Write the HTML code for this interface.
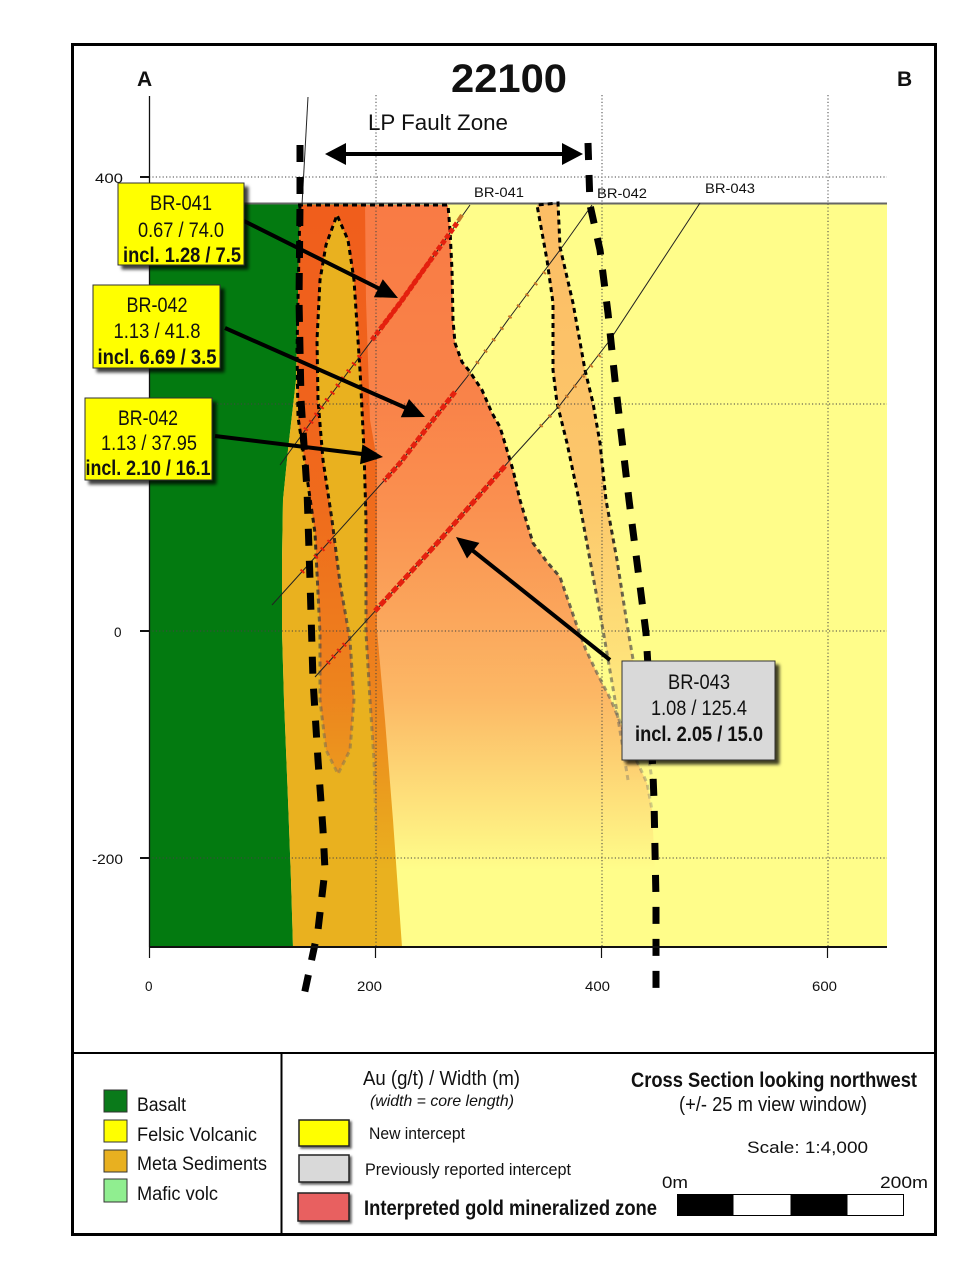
<!DOCTYPE html>
<html><head><meta charset="utf-8"><style>
html,body{margin:0;padding:0;background:#fff;}
svg{display:block;}
text{font-family:"Liberation Sans",sans-serif;fill:#111;}
.n{font-family:"Liberation Sans Narrow","Liberation Sans",sans-serif;}
.v{font-family:"DejaVu Sans","Liberation Sans",sans-serif;}
</style></head><body>
<svg width="980" height="1268" viewBox="0 0 980 1268" xmlns="http://www.w3.org/2000/svg">
<defs>
 <linearGradient id="zg" gradientUnits="userSpaceOnUse" x1="0" y1="205" x2="0" y2="870">
  <stop offset="0" stop-color="rgb(245,43,26)" stop-opacity="0.62"/>
  <stop offset="0.3" stop-color="rgb(245,43,26)" stop-opacity="0.58"/>
  <stop offset="0.45" stop-color="rgb(245,43,26)" stop-opacity="0.52"/>
  <stop offset="0.64" stop-color="rgb(245,43,26)" stop-opacity="0.40"/>
  <stop offset="0.74" stop-color="rgb(245,43,26)" stop-opacity="0.33"/>
  <stop offset="0.86" stop-color="rgb(245,43,26)" stop-opacity="0.18"/>
  <stop offset="1" stop-color="rgb(245,43,26)" stop-opacity="0"/>
 </linearGradient>
 <linearGradient id="lg" gradientUnits="userSpaceOnUse" x1="0" y1="205" x2="0" y2="790">
  <stop offset="0" stop-color="rgb(245,60,26)" stop-opacity="0.33"/>
  <stop offset="0.5" stop-color="rgb(245,60,26)" stop-opacity="0.28"/>
  <stop offset="0.76" stop-color="rgb(245,60,26)" stop-opacity="0.15"/>
  <stop offset="1" stop-color="rgb(245,60,26)" stop-opacity="0"/>
 </linearGradient>
 <linearGradient id="sg" gradientUnits="userSpaceOnUse" x1="0" y1="200" x2="0" y2="840">
  <stop offset="0" stop-color="#000" stop-opacity="1"/>
  <stop offset="0.45" stop-color="#000" stop-opacity="1"/>
  <stop offset="0.62" stop-color="#3a3a3a" stop-opacity="0.75"/>
  <stop offset="1" stop-color="#777" stop-opacity="0.25"/>
 </linearGradient>
 <filter id="sh" x="-10%" y="-10%" width="130%" height="130%">
  <feDropShadow dx="4" dy="4" stdDeviation="1.6" flood-color="#000" flood-opacity="0.75"/>
 </filter>
 <filter id="sh2" x="-10%" y="-10%" width="130%" height="130%">
  <feDropShadow dx="2" dy="2" stdDeviation="1" flood-color="#000" flood-opacity="0.6"/>
 </filter>
</defs>

<rect x="0" y="0" width="980" height="1268" fill="#fff"/>

<!-- fills -->
<rect x="149" y="203" width="738" height="744" fill="#FFFD8A"/>
<polygon fill="#037A10" points="149,203 300,203 298,300 296,380 288,450 283,500 282,560 282,631 284,700 288,800 291,880 293,947 149,947"/>
<polygon fill="#E9B11F" points="300,203 365,203 366,300 370,420 377,460 377,630 385,720 393,820 402,947 293,947 291,880 288,800 284,700 282,631 282,560 283,500 288,450 296,380 298,300"/>
<!-- mineralized overlay -->
<path fill="url(#zg)" d="M300,205 L448,205 L450,230 L452,270 L453,320 L455,343 L462,362 L470,372 L482,390 L492,413 L500,427 L507,450 L513,470 L520,500 L533,543 L547,562 L560,577 L567,597 L576,623 L586,650 L597,673 L611,700 L622,727 L633,753 L647,783 L652,810 L655,870 L376,870 L376,830 L374,760 L370,700 L366,633 L366,520 L364,450 L360,370 L354,280 L348,240 L337,215 L326,245 L320,280 L317,340 L318,400 L323,460 L332,520 L340,583 L350,640 L354,700 L350,750 L338,774 L326,750 L320,700 L320,633 L315,533 L306,470 L298,417 L297,350 L298,300 Z"/>
<!-- right lens -->
<path fill="url(#lg)" d="M537,205 L547,260 L553,303 L553,370 L557,403 L567,443 L579,500 L590,560 L603,630 L615,700 L628,780 L652,780 L640,700 L628,630 L617,560 L606,500 L600,443 L593,403 L585,370 L573,303 L560,247 L558,203 Z"/>

<!-- gridlines -->
<g stroke="#444" stroke-width="1" stroke-dasharray="1.2 2.2" fill="none">
 <line x1="149" y1="177" x2="887" y2="177"/>
 <line x1="149" y1="404" x2="887" y2="404"/>
 <line x1="149" y1="631" x2="887" y2="631"/>
 <line x1="149" y1="858" x2="887" y2="858"/>
 <line x1="376" y1="95" x2="376" y2="947"/>
 <line x1="602" y1="95" x2="602" y2="947"/>
 <line x1="828" y1="95" x2="828" y2="947"/>
</g>

<!-- topography -->
<line x1="149" y1="203.5" x2="887" y2="203.5" stroke="#666" stroke-width="2"/>

<!-- zone outlines -->
<g fill="none" stroke="url(#sg)" stroke-width="3" stroke-dasharray="5 4">
 <path d="M298,205 L448,205 L450,230 L452,270 L453,320 L455,343 L462,362 L470,372 L482,390 L492,413 L500,427 L507,450 L513,470 L520,500 L533,543 L547,562 L560,577 L567,597 L576,623 L586,650 L597,673 L611,700 L622,727 L633,753 L647,783 L652,810"/>
 <path d="M376,830 L374,760 L370,700 L366,633 L366,520 L364,450 L360,370 L354,280 L348,240 L337,215 L326,245 L320,280 L317,340 L318,400 L323,460 L332,520 L340,583 L350,640 L354,700 L350,750 L338,774 L326,750 L320,700 L320,633 L315,533 L306,470 L298,417 L297,350 L298,300 L300,205"/>
 <path d="M628,780 L615,700 L603,630 L590,560 L579,500 L567,443 L557,403 L553,370 L553,303 L547,260 L537,205 L558,203 L560,247 L573,303 L585,370 L593,403 L600,443 L606,500 L617,560 L628,630 L640,700 L652,780"/>
</g>

<!-- drill holes -->
<g fill="none" stroke="#222" stroke-width="1">
 <polyline points="470,205 400,303 327,400 280,465"/>
 <polyline points="592,205 560,250 510,317 467,377 433,420 400,463 272,605"/>
 <polyline points="700,203 610,340 560,405 510,460 440,540 315,677"/>
 <line x1="308" y1="97" x2="302" y2="205"/>
</g>
<g fill="none" stroke="#E4200E" stroke-width="5">
 <polyline points="457,223 400,303 372,340" stroke-dasharray="5 2"/>
 <polyline points="432,258 400,303 382,327" stroke-width="4"/>
 <polyline points="360,356 327,400 303,433" stroke-dasharray="2 7"/>
 <polyline points="455,392 433,420 400,463 384,481" stroke-dasharray="6 2"/>
 <polyline points="330,541 300,574" stroke-dasharray="2 8"/>
 <polyline points="505,466 440,540 375,611" stroke-dasharray="7 2"/>
 <polyline points="345,644 325,666" stroke-dasharray="2 6"/>
</g>
<g fill="none" stroke="#C8782A" stroke-width="4">
 <polyline points="545,272 510,317 467,377" stroke-dasharray="2 12"/>
 <polyline points="600,355 560,405 540,427" stroke-dasharray="2 11"/>
 <polyline points="462,215 458,221" />
</g>

<!-- faults -->
<g fill="none" stroke="#000" stroke-width="7" stroke-dasharray="17 15">
 <path d="M300,145 L300,205 L299,300 L301,400 L307,490 L310,580 L313,680 L318,760 L323,830 L325,870 L318,930 L303,1000"/>
 <path d="M588,143 L590,205 L600,250 L608,313 L615,380 L622,440 L629,500 L638,570 L646,633 L650,700 L654,800 L656,900 L656,998"/>
</g>

<!-- axes -->
<g stroke="#111" fill="none">
 <line x1="149.5" y1="96" x2="149.5" y2="947" stroke-width="1.3"/>
 <line x1="140" y1="177" x2="149" y2="177" stroke-width="2"/>
 <line x1="140" y1="631" x2="149" y2="631" stroke-width="2"/>
 <line x1="140" y1="858" x2="149" y2="858" stroke-width="2"/>
 <line x1="149" y1="947" x2="887" y2="947" stroke-width="2"/>
 <line x1="149.5" y1="947" x2="149.5" y2="958" stroke-width="1.2"/>
 <line x1="375.5" y1="947" x2="375.5" y2="958" stroke-width="1.2"/>
 <line x1="601.5" y1="947" x2="601.5" y2="958" stroke-width="1.2"/>
 <line x1="827.5" y1="947" x2="827.5" y2="958" stroke-width="1.2"/>
</g>
<g class="v" font-size="13.5">
 <text x="95" y="183" textLength="28" lengthAdjust="spacingAndGlyphs">400</text>
 <text x="114" y="637">0</text>
 <text x="92" y="864" textLength="31" lengthAdjust="spacingAndGlyphs">-200</text>
 <text x="145" y="991">0</text>
 <text x="357" y="991" textLength="25" lengthAdjust="spacingAndGlyphs">200</text>
 <text x="585" y="991" textLength="25" lengthAdjust="spacingAndGlyphs">400</text>
 <text x="812" y="991" textLength="25" lengthAdjust="spacingAndGlyphs">600</text>
 <text x="474" y="197" textLength="50" lengthAdjust="spacingAndGlyphs">BR-041</text>
 <text x="597" y="198" textLength="50" lengthAdjust="spacingAndGlyphs">BR-042</text>
 <text x="705" y="193" textLength="50" lengthAdjust="spacingAndGlyphs">BR-043</text>
</g>

<!-- title -->
<text x="509" y="92" font-size="40" font-weight="bold" text-anchor="middle" textLength="116" lengthAdjust="spacingAndGlyphs">22100</text>
<text x="137" y="86" font-size="21" font-weight="bold">A</text>
<text x="897" y="86" font-size="21" font-weight="bold">B</text>
<text x="368" y="130" font-size="22" textLength="140" lengthAdjust="spacingAndGlyphs">LP Fault Zone</text>
<line x1="344" y1="154" x2="565" y2="154" stroke="#000" stroke-width="4"/>
<polygon points="325,154 346,143 346,165" fill="#000"/>
<polygon points="583,154 562,143 562,165" fill="#000"/>

<!-- arrows -->
<g stroke="#000" stroke-width="4">
 <line x1="242" y1="220" x2="380" y2="289"/>
 <line x1="225" y1="328" x2="406" y2="408"/>
 <line x1="215" y1="436" x2="362" y2="454"/>
 <line x1="610" y1="660" x2="472" y2="550"/>
</g>
<g fill="#000">
 <polygon points="398,298 373.9,297.2 382.8,279.3"/>
 <polygon points="425,417 400.8,417.2 409,399"/>
 <polygon points="383,457 360,464.2 362.4,444.4"/>
 <polygon points="456,537 479.4,542.9 467,558.5"/>
</g>

<!-- label boxes -->
<g filter="url(#sh)">
 <rect x="118" y="183" width="126" height="82" fill="#FFFF00" stroke="#333" stroke-width="1"/>
 <rect x="93" y="285" width="127" height="83" fill="#FFFF00" stroke="#333" stroke-width="1"/>
 <rect x="85" y="398" width="127" height="82" fill="#FFFF00" stroke="#333" stroke-width="1"/>
 <rect x="622" y="661" width="153" height="99" fill="#D9D9D9" stroke="#333" stroke-width="1"/>
</g>
<g class="n" font-size="21" text-anchor="middle">
 <text x="181" y="210" textLength="62" lengthAdjust="spacingAndGlyphs">BR-041</text>
 <text x="181" y="237" textLength="86" lengthAdjust="spacingAndGlyphs">0.67 / 74.0</text>
 <text x="182" y="262" font-weight="bold" textLength="118" lengthAdjust="spacingAndGlyphs">incl. 1.28 / 7.5</text>
 <text x="157" y="312" textLength="61" lengthAdjust="spacingAndGlyphs">BR-042</text>
 <text x="157" y="338" textLength="87" lengthAdjust="spacingAndGlyphs">1.13 / 41.8</text>
 <text x="157" y="364" font-weight="bold" textLength="119" lengthAdjust="spacingAndGlyphs">incl. 6.69 / 3.5</text>
 <text x="148" y="425" textLength="60" lengthAdjust="spacingAndGlyphs">BR-042</text>
 <text x="149" y="450" textLength="96" lengthAdjust="spacingAndGlyphs">1.13 / 37.95</text>
 <text x="148" y="475" font-weight="bold" textLength="125" lengthAdjust="spacingAndGlyphs">incl. 2.10 / 16.1</text>
 <text x="699" y="689" textLength="62" lengthAdjust="spacingAndGlyphs">BR-043</text>
 <text x="699" y="715" textLength="96" lengthAdjust="spacingAndGlyphs">1.08 / 125.4</text>
 <text x="699" y="741" font-weight="bold" textLength="128" lengthAdjust="spacingAndGlyphs">incl. 2.05 / 15.0</text>
</g>

<!-- frame & legend dividers -->
<rect x="72.5" y="44.5" width="863" height="1190" fill="none" stroke="#000" stroke-width="3"/>
<line x1="72" y1="1053" x2="936" y2="1053" stroke="#000" stroke-width="2"/>
<line x1="281.5" y1="1053" x2="281.5" y2="1235" stroke="#000" stroke-width="2"/>

<!-- legend left -->
<g stroke="#333" stroke-width="1">
 <rect x="104" y="1090" width="23" height="22" fill="#0A7A1A"/>
 <rect x="104" y="1120" width="23" height="22" fill="#FFFF00"/>
 <rect x="104" y="1150" width="23" height="22" fill="#E8B020"/>
 <rect x="104" y="1179" width="23" height="23" fill="#90EE90"/>
</g>
<g font-size="19">
 <text x="137" y="1111" textLength="49" lengthAdjust="spacingAndGlyphs">Basalt</text>
 <text x="137" y="1141" textLength="120" lengthAdjust="spacingAndGlyphs">Felsic Volcanic</text>
 <text x="137" y="1170" textLength="130" lengthAdjust="spacingAndGlyphs">Meta Sediments</text>
 <text x="137" y="1200" textLength="81" lengthAdjust="spacingAndGlyphs">Mafic volc</text>
</g>

<!-- legend middle -->
<g filter="url(#sh2)" stroke="#222" stroke-width="1.5">
 <rect x="299" y="1120" width="50" height="26" fill="#FFFF00"/>
 <rect x="299" y="1155" width="50" height="27" fill="#D9D9D9"/>
 <rect x="298" y="1193" width="51" height="28" fill="#E86060"/>
</g>
<g class="n">
 <text x="363" y="1085" font-size="20" textLength="157" lengthAdjust="spacingAndGlyphs">Au (g/t) / Width (m)</text>
 <text x="370" y="1106" font-size="16" font-style="italic" textLength="144" lengthAdjust="spacingAndGlyphs">(width = core length)</text>
 <text x="369" y="1139" font-size="17" textLength="96" lengthAdjust="spacingAndGlyphs">New intercept</text>
 <text x="365" y="1175" font-size="17" textLength="206" lengthAdjust="spacingAndGlyphs">Previously reported  intercept</text>
 <text x="364" y="1215" font-size="21" font-weight="bold" textLength="293" lengthAdjust="spacingAndGlyphs">Interpreted gold mineralized zone</text>
 <text x="631" y="1087" font-size="21" font-weight="bold" textLength="286" lengthAdjust="spacingAndGlyphs">Cross Section looking northwest</text>
 <text x="679" y="1111" font-size="20" textLength="188" lengthAdjust="spacingAndGlyphs">(+/- 25 m view window)</text>
</g>
<g font-size="17">
 <text x="747" y="1153" textLength="121" lengthAdjust="spacingAndGlyphs">Scale: 1:4,000</text>
 <text x="662" y="1188" textLength="26" lengthAdjust="spacingAndGlyphs">0m</text>
 <text x="880" y="1188" textLength="48" lengthAdjust="spacingAndGlyphs">200m</text>
</g>
<rect x="677.5" y="1194.5" width="226" height="21" fill="#fff" stroke="#000" stroke-width="1"/>
<rect x="677.5" y="1194.5" width="56" height="21" fill="#000"/>
<rect x="790.5" y="1194.5" width="57" height="21" fill="#000"/>
</svg>
</body></html>
